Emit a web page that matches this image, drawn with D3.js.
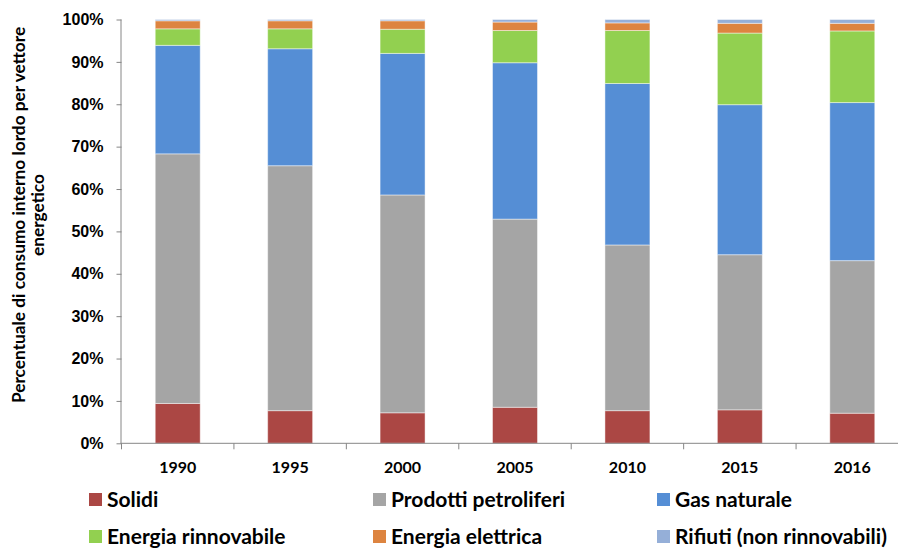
<!DOCTYPE html>
<html>
<head>
<meta charset="utf-8">
<script src="https://cdn.jsdelivr.net/npm/d3@7"></script>
<style>
  html, body { margin: 0; padding: 0; background: #fff; }
  svg { display: block; font-family: "Lato", "Liberation Sans", sans-serif; }
</style>
</head>
<body>
<div id="chart"></div>
<script>
// anni e serie (percentuali)
const years = ["1990", "1995", "2000", "2005", "2010", "2015", "2016"];
const seriesNames = [
  "Solidi",
  "Prodotti petroliferi",
  "Gas naturale",
  "Energia rinnovabile",
  "Energia elettrica",
  "Rifiuti (non rinnovabili)"
];
const solidi = [9.4, 7.7, 7.2, 8.5, 7.7, 7.9, 7.1];
const petroliferi = [58.9, 57.8, 51.4, 44.4, 39.1, 36.6, 36.0];
const gas = [25.6, 27.6, 33.4, 36.9, 38.1, 35.4, 37.3];
const rinnovabile = [3.9, 4.7, 5.7, 7.6, 12.5, 16.9, 16.9];
const elettrica = [1.9, 1.9, 2.0, 2.0, 1.8, 2.3, 1.8];
const rifiuti = [0.3, 0.3, 0.3, 0.6, 0.8, 0.9, 0.9];
const yTicks = [0, 10, 20, 30, 40, 50, 60, 70, 80, 90, 100];
const colors = ["#AB4744", "#A5A5A5", "#558ED5", "#92D050", "#DD8440", "#95AFD8"];

const width = 898, height = 549;
const plotLeft = 121.5, plotRight = 908.5, plotTop = 19.5, plotBottom = 443.3;

const rows = years.map((y, i) => ({
  year: y,
  "Solidi": solidi[i],
  "Prodotti petroliferi": petroliferi[i],
  "Gas naturale": gas[i],
  "Energia rinnovabile": rinnovabile[i],
  "Energia elettrica": elettrica[i],
  "Rifiuti (non rinnovabili)": rifiuti[i]
}));
const stacked = d3.stack().keys(seriesNames)(rows);

const x = d3.scaleBand().domain(years).range([plotLeft, plotRight]).paddingInner(0.6).paddingOuter(0.3);
const y = d3.scaleLinear().domain([0, 100]).range([plotBottom, plotTop]);
const color = d3.scaleOrdinal().domain(seriesNames).range(colors);

const svg = d3.select("#chart").append("svg").attr("width", width).attr("height", height);

// barre
svg.append("g")
  .selectAll("g")
  .data(stacked)
  .join("g")
  .attr("fill", (d) => color(d.key))
  .selectAll("rect")
  .data((d) => d)
  .join("rect")
  .attr("x", (d) => x(d.data.year))
  .attr("y", (d) => y(Math.min(d[1], 100)))
  .attr("width", x.bandwidth())
  .attr("height", (d) => y(d[0]) - y(Math.min(d[1], 100)))
  .attr("stroke", "rgba(255,255,255,0.45)")
  .attr("stroke-width", 1);

// asse y
const yAxis = svg.append("g")
  .attr("transform", `translate(${plotLeft},0)`)
  .call(d3.axisLeft(y).tickValues(yTicks).tickSize(5).tickPadding(13).tickFormat((d) => d + "%"));
yAxis.select(".domain").attr("stroke", "#868686").attr("d", `M-0.5,${plotTop}V${plotBottom}`);
yAxis.selectAll(".tick line").attr("stroke", "#868686");
yAxis.selectAll("text")
  .attr("fill", "#000")
  .style("font-size", "16px")
  .style("font-weight", 700);

// asse x: tacche ai confini delle categorie
const xg = svg.append("g");
xg.append("line")
  .attr("x1", plotLeft - 1).attr("x2", plotRight)
  .attr("y1", plotBottom).attr("y2", plotBottom)
  .attr("stroke", "#868686");
xg.selectAll("line.tk")
  .data(d3.range(years.length + 1))
  .join("line")
  .attr("class", "tk")
  .attr("x1", (i) => plotLeft + i * x.step())
  .attr("x2", (i) => plotLeft + i * x.step())
  .attr("y1", plotBottom).attr("y2", plotBottom + 6)
  .attr("stroke", "#868686");
xg.selectAll("text")
  .data(years)
  .join("text")
  .attr("x", (d) => x(d) + x.bandwidth() / 2)
  .attr("y", 473)
  .attr("text-anchor", "middle")
  .style("font-size", "16px")
  .style("font-weight", 700)
  .text((d) => d);

// titolo asse y
const yt = svg.append("text")
  .attr("transform", "translate(19,215) rotate(-90)")
  .attr("text-anchor", "middle")
  .style("font-size", "17.3px")
  .style("font-weight", 700);
yt.append("tspan").attr("x", 0).attr("dy", "0.35em").text("Percentuale di consumo interno lordo per vettore");
yt.append("tspan").attr("x", 0).attr("dy", "1.12em").text("energetico");

// legenda
const legendCols = [89, 373, 657];
const legendRows = [500, 537];
const legend = svg.append("g")
  .selectAll("g")
  .data(seriesNames)
  .join("g")
  .attr("transform", (d, i) => `translate(${legendCols[i % 3]},${legendRows[Math.floor(i / 3)]})`);
legend.append("rect")
  .attr("x", 0).attr("y", -7)
  .attr("width", 13).attr("height", 13)
  .attr("fill", (d) => color(d));
legend.append("text")
  .attr("x", 18).attr("y", 0)
  .attr("dy", "0.35em")
  .style("font-size", "21px")
  .style("font-weight", 700)
  .text((d) => d);
</script>
</body>
</html>
